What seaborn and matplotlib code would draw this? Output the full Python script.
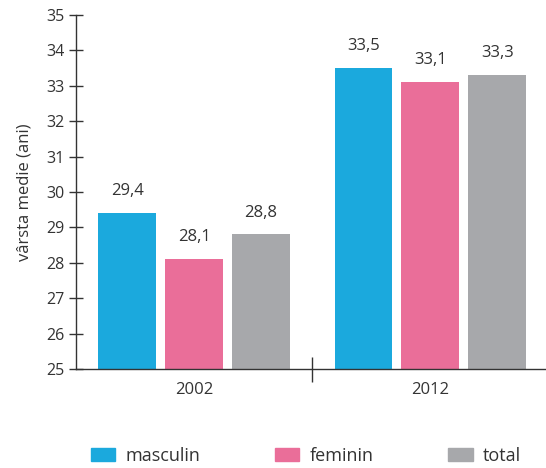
import matplotlib
matplotlib.use("Agg")
import matplotlib.pyplot as plt
import seaborn as sns
import pandas as pd

# Data
years = ["2002", "2012"]
groups = ["masculin", "feminin", "total"]
values_2002 = [29.4, 28.1, 28.8]
values_2012 = [33.5, 33.1, 33.3]
colors = ["#1BA9DD", "#EA6E99", "#A7A8AB"]

df = pd.DataFrame({
    "an": [years[0]] * 3 + [years[1]] * 3,
    "sex": groups * 2,
    "varsta": values_2002 + values_2012,
})

sns.set_style("white")
plt.rcParams["font.family"] = ["Open Sans", "DejaVu Sans"]
text_col = "#333333"

fig = plt.figure(figsize=(5.46, 4.68), dpi=100)
ax = fig.add_axes([76 / 546, 1 - 369 / 468, 1 - 76 / 546, (369 - 15) / 468])

sns.barplot(data=df, x="an", y="varsta", hue="sex", hue_order=groups,
            palette=colors, width=0.85, gap=0.14, ax=ax, legend=False,
            saturation=1, edgecolor="none")

ax.set_ylim(25, 35)
ax.set_xlim(-0.5, 1.49)
ax.set_yticks(range(25, 36))
ax.set_xticks([0.5], minor=False)
ax.set_xticks([0, 1], minor=True)
ax.set_xticklabels([""])
ax.set_xticklabels(years, minor=True)
ax.tick_params(axis="x", which="major", bottom=True, direction="inout", length=18,
               width=1, color=text_col)
ax.tick_params(axis="x", which="minor", bottom=False, length=0, pad=9,
               labelsize=12, labelcolor=text_col)
ax.tick_params(axis="y", left=True, direction="inout", length=10, width=1, color=text_col,
               labelsize=11.5, labelcolor=text_col, pad=3)
ax.set_xlabel("")
ax.set_ylabel("vârsta medie (ani)", fontsize=12, color=text_col, labelpad=10)

for s in ["top", "right"]:
    ax.spines[s].set_visible(False)
for s in ["left", "bottom"]:
    ax.spines[s].set_color(text_col)
    ax.spines[s].set_linewidth(1)

for cont in ax.containers:
    labels = [f"{b.get_height():.1f}".replace(".", ",") for b in cont]
    ax.bar_label(cont, labels=labels, padding=10, fontsize=12, color=text_col)

# legend
handles = [plt.Rectangle((0, 0), 1, 1, color=c) for c in colors]
fig.legend(handles, groups, loc="center", bbox_to_anchor=(0.56, 1 - 456 / 468),
           ncol=3, frameon=False, fontsize=13, handlelength=1.35, handleheight=0.75,
           columnspacing=4.15, handletextpad=0.55, labelcolor=text_col,
           borderpad=0, borderaxespad=0)

fig.savefig("out.png", dpi=100)
